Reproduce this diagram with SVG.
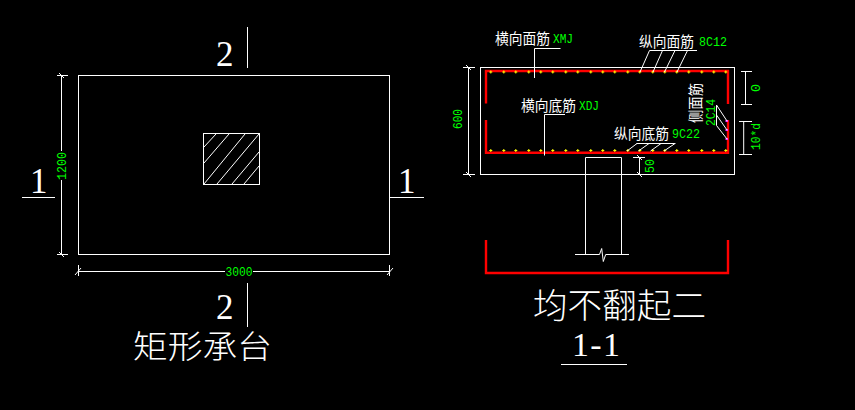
<svg xmlns="http://www.w3.org/2000/svg" width="855" height="410" viewBox="0 0 855 410">
<style>
.w{fill:none;stroke:#fff;stroke-width:1}
.r{fill:none;stroke:#f00;stroke-width:2.4}
.m{fill:none;stroke:#f3f;stroke-width:2}
.g{fill:#0f0;font-family:"Liberation Mono",monospace;font-size:13px}
.c{fill:#fff;font-family:"Noto Sans CJK SC",sans-serif;font-size:14.5px}
.t{fill:#fff;font-family:"Noto Sans CJK SC",sans-serif;font-size:34px;font-weight:300}
.n{fill:#fff;font-family:"Liberation Serif",serif;font-size:35px}
.d{fill:none;stroke:none;marker-start:url(#dot);marker-mid:url(#dot);marker-end:url(#dot)}
</style>
<defs>
<marker id="dot" markerUnits="userSpaceOnUse" markerWidth="6" markerHeight="6" refX="3" refY="3" overflow="visible"><path d="M1.5 3H4.5M3 1.5V4.5" stroke="#ff0" stroke-width="1" fill="none"/></marker>
</defs>
<rect width="855" height="410" fill="#000"/>
<g id="plan">
<rect class="w" x="78.5" y="75.5" width="311" height="179"/>
<rect class="w" x="203.5" y="133.5" width="56" height="51"/>
<path class="w" d="M204 147L216 134M204 163L229 134M204 184L245 134M217 184L259 134M232 184L259 152M244 184L259 166"/>
</g>
<g id="plan-dims">
<path class="w" d="M61.5 75V151M61.5 180V254M57 75.5H68M57 254.5H68M59 73L64 78M59 252L64 257"/>
<path class="w" d="M78.5 271.5H225M253 271.5H389.5M78.5 265V276M389.5 265V276M75 275L81 268M387 275L393 268"/>
<text class="g" transform="translate(66 180) rotate(-90)" textLength="28" lengthAdjust="spacingAndGlyphs">1200</text>
<text class="g" x="225.5" y="276" textLength="27" lengthAdjust="spacingAndGlyphs">3000</text>
</g>
<g id="section-marks">
<path class="w" d="M247.5 27V68M247.5 283V327M22 197.5H55M390 197.5H424"/>
<text class="n" x="216" y="66">2</text>
<text class="n" x="216" y="319">2</text>
<text class="n" x="30" y="193">1</text>
<text class="n" x="398" y="193">1</text>
</g>
<g id="plan-title"><text class="t" x="133" y="358" style="font-size:32px" textLength="139" lengthAdjust="spacingAndGlyphs">矩形承台</text></g>
<g id="section">
<rect class="w" x="480.5" y="67.5" width="254" height="107"/>
<path class="w" d="M585.5 174.5V157.5H621.5V254M585.5 174V254M575 254.5H599.5L601.7 248.5L603.3 261.5L605.7 254.5H629"/>
</g>
<g id="rebar">
<path class="r" d="M486 103.5V71H728V104M486 120V152.7H728V120"/>
<path class="r" d="M486 240V273H728V240"/>
<polyline class="d" points="490.8,72 503.8,72 515.8,72 528.8,72 540.8,72 552.8,72 565.8,72 577.8,72 590.8,72 602.8,72 614.8,72 627.8,72 639.8,72 652.8,72 664.8,72 676.8,72 688.8,72 701.8,72 713.8,72 725.8,72"/>
<polyline class="d" points="490.8,150.5 503.8,150.5 515.8,150.5 528.8,150.5 540.8,150.5 552.8,150.5 565.8,150.5 577.8,150.5 590.8,150.5 602.8,150.5 614.8,150.5 627.8,150.5 639.8,150.5 652.8,150.5 664.8,150.5 676.8,150.5 688.8,150.5 701.8,150.5 713.8,150.5 725.8,150.5"/>
<path class="m" d="M725.5 121H728M725.5 130H728M725.5 139H728"/>
</g>
<g id="leaders">
<path class="w" d="M560.5 48.5H534.5V78M649.5 50.5H697M649.5 50.5L640 72M662.5 50.5L653 72M675 50.5L664.5 72M687.5 50.5L677 72M565 114.5H544.5V155.5M636.5 143.5H675.5M637 143.5L627 151M649 143.5L638.5 151M661 143.5L650.5 151M675 143.5L664 151M716.5 105V125.5M716.5 105L727 121M716.5 115L727 130M716.5 125.5L727 139"/>
</g>
<g id="section-dims">
<path class="w" d="M468.5 67V175M463 67.5H475M463 174.5H475M466 65L471 70M466 172L471 177"/>
<path class="w" d="M745.5 71V104M741 71.5H752M741 104.5H752M743.7 121V154.5M739 121.5H752M739 154.5H752"/>
<path class="w" d="M639.5 157V175M633 157.5H645M633 174.5H645M637 155L642 160M637 172L642 177"/>
<text class="g" transform="translate(461.5 129) rotate(-90)" textLength="20" lengthAdjust="spacingAndGlyphs">600</text>
<text class="g" transform="translate(653.5 173) rotate(-90)" textLength="14" lengthAdjust="spacingAndGlyphs">50</text>
<text class="g" transform="translate(760 92) rotate(-90)" textLength="8" lengthAdjust="spacingAndGlyphs">0</text>
<text class="g" transform="translate(760 150) rotate(-90)" textLength="27" lengthAdjust="spacingAndGlyphs">10*d</text>
</g>
<g id="labels">
<text class="c" x="495" y="44" textLength="55" lengthAdjust="spacingAndGlyphs">横向面筋</text>
<text class="g" x="553" y="43" textLength="20" lengthAdjust="spacingAndGlyphs">XMJ</text>
<text class="c" x="639" y="47" textLength="55" lengthAdjust="spacingAndGlyphs">纵向面筋</text>
<text class="g" x="699" y="46" textLength="28" lengthAdjust="spacingAndGlyphs">8C12</text>
<text class="c" x="521" y="111" textLength="55" lengthAdjust="spacingAndGlyphs">横向底筋</text>
<text class="g" x="579" y="110" textLength="20" lengthAdjust="spacingAndGlyphs">XDJ</text>
<text class="c" x="614" y="139" textLength="55" lengthAdjust="spacingAndGlyphs">纵向底筋</text>
<text class="g" x="672" y="138" textLength="28" lengthAdjust="spacingAndGlyphs">9C22</text>
<text class="c" transform="translate(701 123) rotate(-90)" textLength="40" lengthAdjust="spacingAndGlyphs">侧面筋</text>
<text class="g" transform="translate(714.5 126) rotate(-90)" textLength="27" lengthAdjust="spacingAndGlyphs">2C14</text>
</g>
<g id="section-title">
<text class="t" x="533" y="318" textLength="173" lengthAdjust="spacingAndGlyphs">均不翻起二</text>
<text class="n" x="572" y="356" style="font-size:34px" textLength="48">1-1</text>
<path class="w" d="M561 364.5H627"/>
</g>
</svg>
